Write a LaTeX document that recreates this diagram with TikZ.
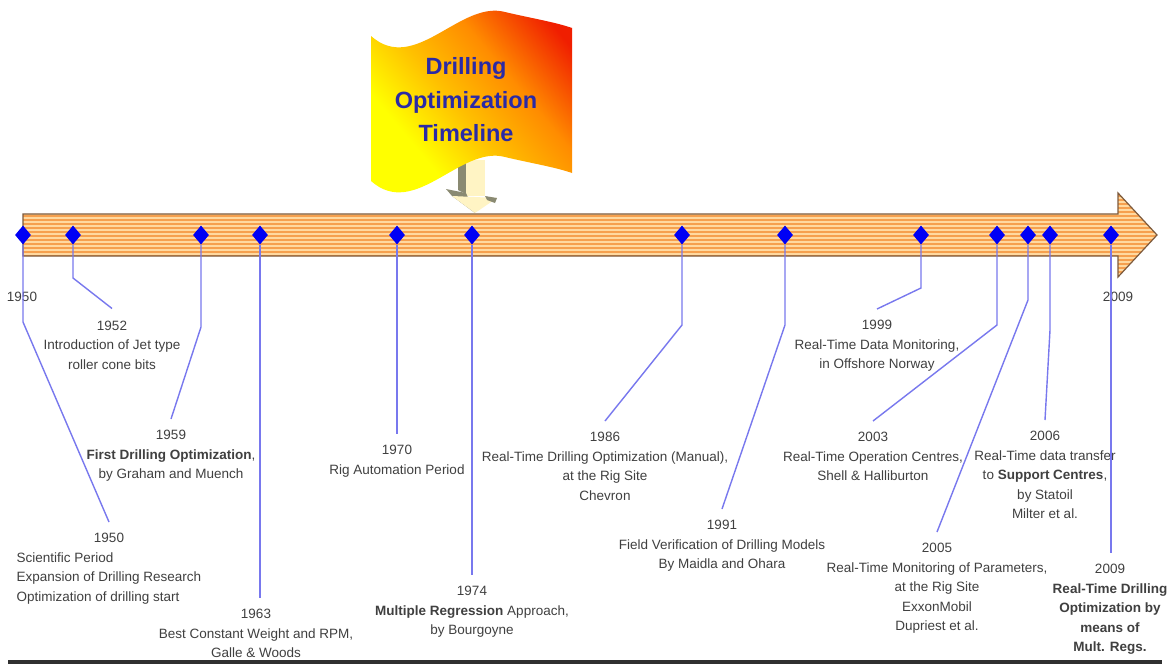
\documentclass[tikz,border=0pt]{standalone}
\usepackage{fontspec}
\setmainfont{Liberation Sans}
\usetikzlibrary{shapes.geometric}
\definecolor{tlorange}{HTML}{F6A04E}
\definecolor{tlstripe}{HTML}{FFD9A0}
\definecolor{tlborder}{HTML}{7D5A3C}
\definecolor{evblue}{HTML}{0000F5}
\definecolor{connblue}{HTML}{7878EE}
\definecolor{labgray}{HTML}{404040}
\definecolor{titleblue}{HTML}{2A2AA6}
\definecolor{stemcream}{HTML}{FFF4C4}
\definecolor{stemgray}{HTML}{8A8A72}
\definecolor{bottombar}{HTML}{303030}
\definecolor{flagyellow}{HTML}{FFFF00}
\definecolor{flagmid}{HTML}{FFC000}
\definecolor{flagorange}{HTML}{FF8C00}
\definecolor{flagred}{HTML}{F01E00}
\pgfdeclarehorizontalshading{flagshade}{100bp}{color(0bp)=(flagyellow); color(34bp)=(flagyellow); color(48bp)=(flagmid); color(62bp)=(flagorange); color(78bp)=(flagred); color(100bp)=(flagred)}
\begin{document}
\begin{tikzpicture}[x=1pt,y=-1pt,
  ev/.style={diamond, fill=evblue, minimum width=16pt, minimum height=19pt, inner sep=0pt},
  conn/.style={draw=connblue, line width=1.4pt},
  lab/.style={text=labgray, font=\fontsize{13.5}{19.5}\selectfont, align=center, inner sep=0pt, anchor=north},
  yearlab/.style={text=labgray, font=\fontsize{13.5}{19.5}\selectfont, inner sep=0pt},
  titletext/.style={text=titleblue, font=\bfseries\fontsize{23.5}{33.5}\selectfont, align=center, inner sep=0pt}]
\useasboundingbox (0,0) rectangle (1168,664);
\fill[white] (0,0) rectangle (1168,664);

% timeline arrow
\begin{scope}
  \clip (23,214) -- (1118,214) -- (1118,193) -- (1157,235) -- (1118,277) -- (1118,256) -- (23,256) -- cycle;
  \fill[tlorange] (20,190) rectangle (1160,280);
  \foreach \yy in {194,198,...,278} \draw[tlstripe, line width=1.3pt] (20,\yy) -- (1160,\yy);
\end{scope}
\draw[tlborder, line width=1.2pt] (23,214) -- (1118,214) -- (1118,193) -- (1157,235) -- (1118,277) -- (1118,256) -- (23,256) -- cycle;

% flag stem
\fill[stemgray] (458,160) -- (466,160) -- (466,194) -- (458,190) -- cycle;
\fill[stemcream] (466,160) rectangle (485,196);
\fill[stemgray] (446,189) -- (466,193) -- (475,213) -- (452,196) -- cycle;
\fill[stemcream] (452,196) -- (497,198) -- (475,213) -- cycle;
\fill[stemgray] (485,196) -- (497,198) -- (495,203) -- (487,200) -- cycle;

% flag
\shade[shading=flagshade, shading angle=40]
  (371,36) .. controls (415,75) and (460,0) .. (505,12) .. controls (530,18) and (555,22) .. (572,28)
  -- (572,173) .. controls (555,167) and (530,163) .. (505,157) .. controls (460,145) and (415,220) .. (371,181) -- cycle;
\node[titletext] (title) at (466,100) {Drilling\\Optimization\\Timeline};

% events
\node[ev] (d1950) at (23,235) {};
\node[ev] (d1952) at (73,235) {};
\node[ev] (d1959) at (201,235) {};
\node[ev] (d1963) at (260,235) {};
\node[ev] (d1970) at (397,235) {};
\node[ev] (d1974) at (472,235) {};
\node[ev] (d1986) at (682,235) {};
\node[ev] (d1991) at (785,235) {};
\node[ev] (d1999) at (921,235) {};
\node[ev] (d2003) at (997,235) {};
\node[ev] (d2005) at (1028,235) {};
\node[ev] (d2006) at (1050,235) {};
\node[ev] (d2009) at (1111,235) {};

% year labels at the ends
\node[yearlab] (y1950) at (22,297) {1950};
\node[yearlab] (y2009) at (1118,297) {2009};

% labels
\node[text=labgray, font=\fontsize{13.5}{19.5}\selectfont, inner sep=0pt, anchor=north] (l1950) at (109,529)
  {\begin{tabular}{@{}l@{}}\multicolumn{1}{@{}c@{}}{1950}\\Scientific Period\\Expansion of Drilling Research\\Optimization of drilling start\end{tabular}};
\node[lab] (l1952) at (112,320.5) {1952\\Introduction of Jet type\\roller cone bits};
\node[lab] (l1959) at (171,430) {1959\\\textbf{First Drilling Optimization},\\by Graham and Muench};
\node[lab] (l1963) at (256,609) {1963\\Best Constant Weight and RPM,\\Galle \& Woods};
\node[lab] (l1970) at (397,445) {1970\\Rig Automation Period};
\node[lab] (l1974) at (472,586) {1974\\\textbf{Multiple Regression} Approach,\\by Bourgoyne};
\node[lab] (l1986) at (605,432) {1986\\Real-Time Drilling Optimization (Manual),\\at the Rig Site\\Chevron};
\node[lab] (l1991) at (722,520) {1991\\Field Verification of Drilling Models\\By Maidla and Ohara};
\node[lab] (l1999) at (877,320) {1999\\Real-Time Data Monitoring,\\in Offshore Norway};
\node[lab] (l2003) at (873,432) {2003\\Real-Time Operation Centres,\\Shell \& Halliburton};
\node[lab] (l2005) at (937,543) {2005\\Real-Time Monitoring of Parameters,\\at the Rig Site\\ExxonMobil\\Dupriest et al.};
\node[lab] (l2006) at (1045,431) {2006\\Real-Time data transfer\\to \textbf{Support Centres},\\by Statoil\\Milter et al.};
\node[lab] (l2009) at (1110,564) {2009\\\textbf{Real-Time Drilling}\\\textbf{Optimization by}\\\textbf{means of}\\\textbf{Mult. Regs.}};

% connectors
\draw[conn] (d1950.south) -- (d1950.south |- 0,322) -- ([yshift=7pt]l1950.north);
\draw[conn] (d1952.south) -- (d1952.south |- 0,278) -- ([yshift=12pt]l1952.north);
\draw[conn] (d1959.south) -- (d1959.south |- 0,327) -- ([yshift=11pt]l1959.north);
\draw[conn] (d1963.south) -- ([yshift=11pt]l1963.north -| d1963.south);
\draw[conn] (d1970.south) -- ([yshift=11pt]l1970.north);
\draw[conn] (d1974.south) -- ([yshift=11pt]l1974.north);
\draw[conn] (d1986.south) -- (d1986.south |- 0,325) -- ([yshift=11pt]l1986.north);
\draw[conn] (d1991.south) -- (d1991.south |- 0,325) -- ([yshift=11pt]l1991.north);
\draw[conn] (d1999.south) -- (d1999.south |- 0,288) -- ([yshift=11pt]l1999.north);
\draw[conn] (d2003.south) -- (d2003.south |- 0,325) -- ([yshift=11pt]l2003.north);
\draw[conn] (d2005.south) -- (d2005.south |- 0,300) -- ([yshift=11pt]l2005.north);
\draw[conn] (d2006.south) -- (d2006.south |- 0,330) -- ([yshift=11pt]l2006.north);
\draw[conn] (d2009.south) -- ([yshift=11pt]l2009.north -| d2009.south);

% bottom bar
\fill[bottombar] (8,660) rectangle (1162,664);
\end{tikzpicture}
\end{document}
